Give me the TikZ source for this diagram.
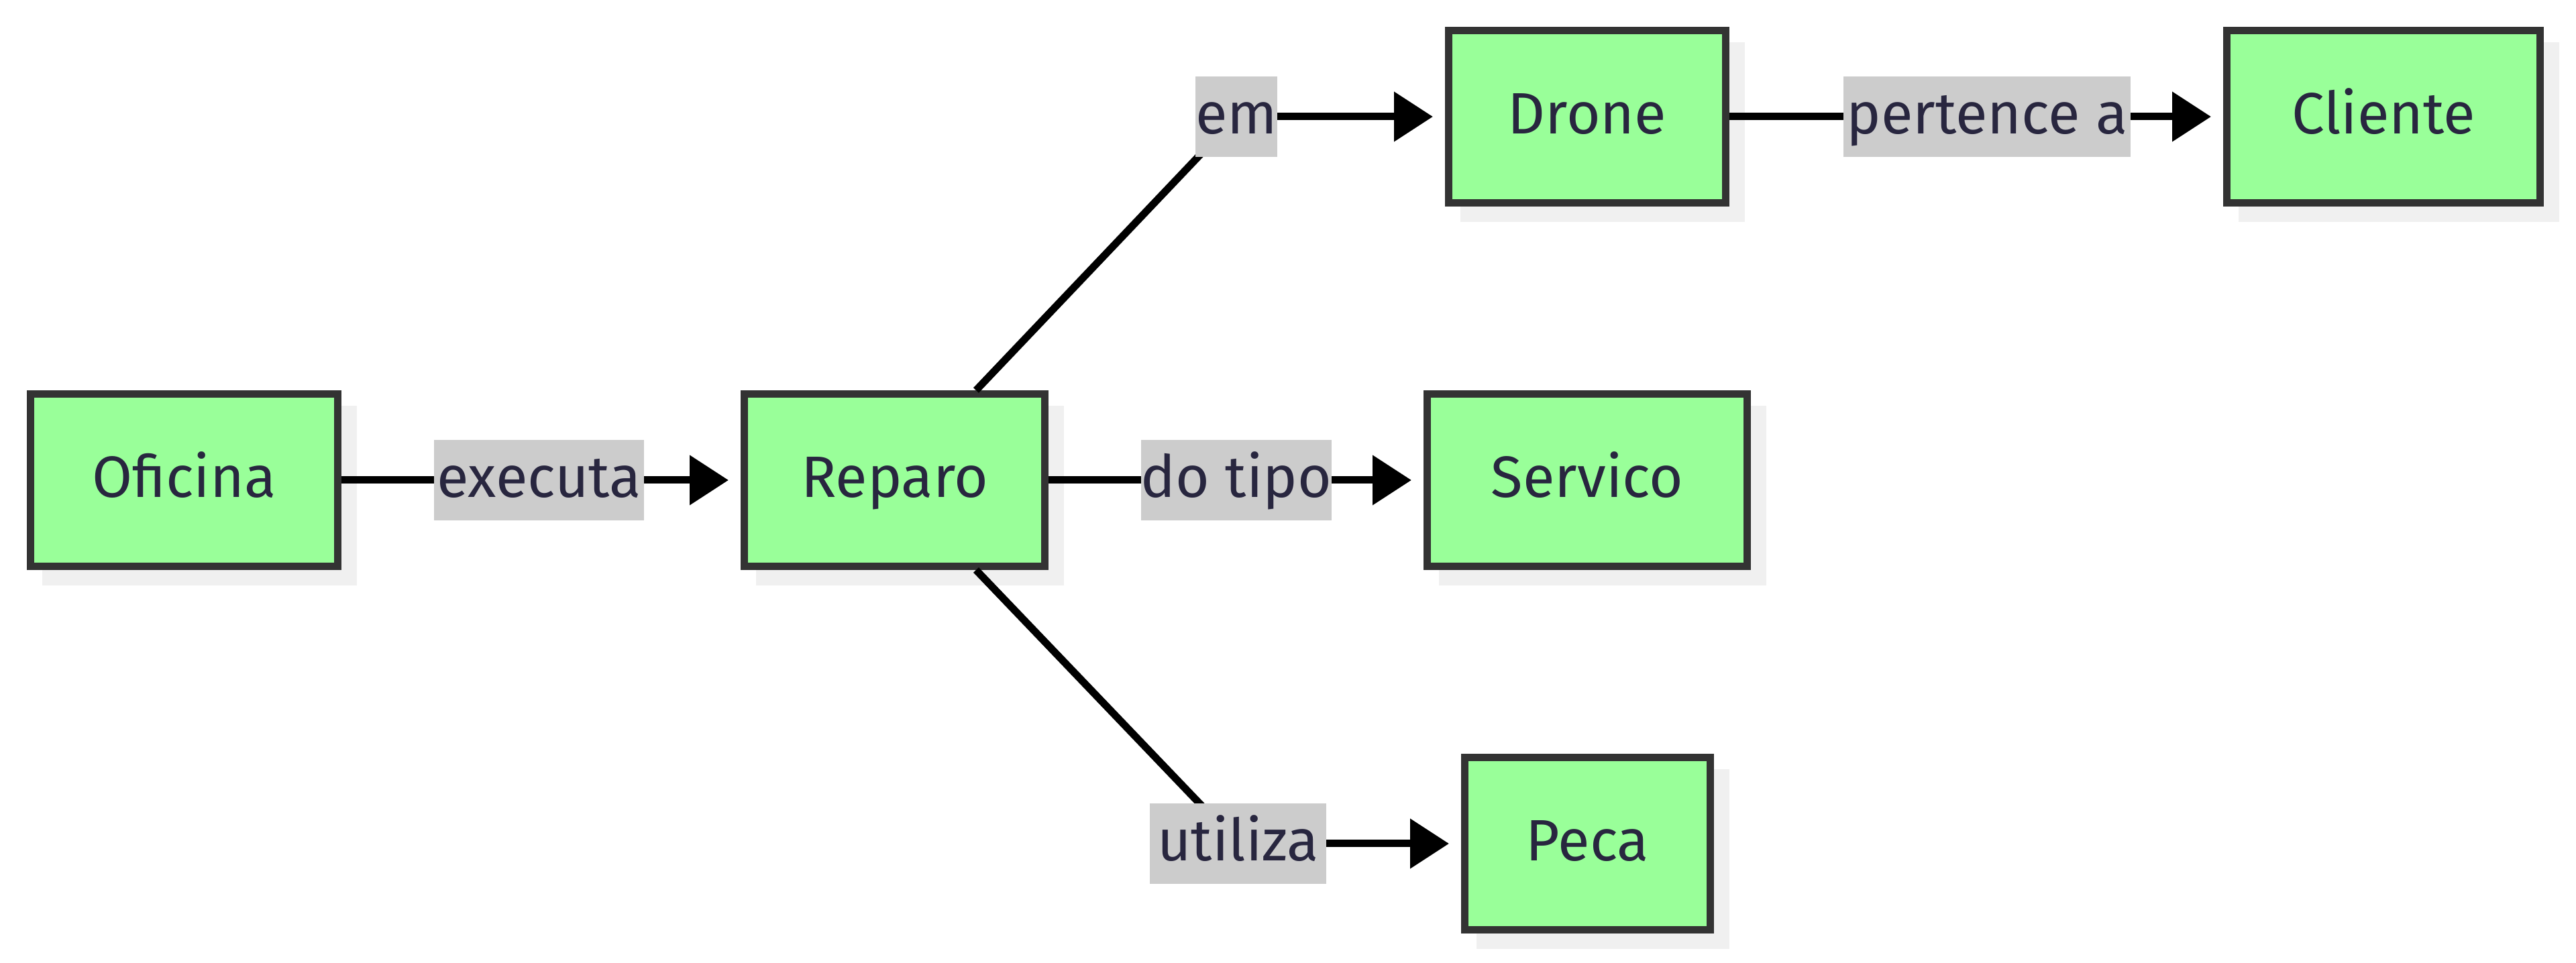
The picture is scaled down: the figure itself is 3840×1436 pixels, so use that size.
\documentclass[tikz,border=0pt]{standalone}
\usepackage{fontspec}
\setmainfont{Fira Sans}
\usetikzlibrary{arrows.meta,calc,backgrounds}
\pgfdeclarelayer{fg}
\pgfsetlayers{background,main,fg}
\definecolor{boxfill}{HTML}{99FF99}
\definecolor{boxline}{HTML}{333333}
\definecolor{lblfill}{HTML}{CCCCCC}
\definecolor{shadowc}{HTML}{F0F0F0}
\definecolor{txt}{HTML}{28263F}
\begin{document}
\begin{tikzpicture}[x=0.1pt,y=-0.1pt,
  box/.style={rectangle, draw=boxline, fill=boxfill, line width=1.1pt,
    minimum height=25.7pt, inner sep=0pt, text=txt,
    text height=6.5pt, text depth=1.3pt,
    font=\fontsize{8.7}{10}\selectfont},
  lbl/.style={rectangle, fill=lblfill, inner sep=0pt, minimum height=12pt,
    text=txt, text height=6.5pt, text depth=1.3pt,
    font=\fontsize{8.7}{10}\selectfont},
  edge/.style={line width=1.1pt, black},
  arr/.style={edge, -{Triangle[length=5.8pt,width=7.2pt]}, shorten >=1.8pt}
]
\useasboundingbox (0,0) rectangle (3840,1436);

% boxes
\node[box, minimum width=45.8pt] (oficina) at (274.5,716) {Oficina};
\node[box, minimum width=44.8pt] (reparo) at (1333.5,716) {Reparo};
\node[box, minimum width=41.3pt] (drone) at (2366,174) {Drone};
\node[box, minimum width=47.7pt] (servico) at (2366,716) {Servico};
\node[box, minimum width=36.6pt] (peca) at (2366.5,1258) {Peca};
\node[box, minimum width=46.7pt] (cliente) at (3553,174) {Cliente};

% edge labels
\begin{pgfonlayer}{fg}
\node[lbl, minimum width=31.3pt] (lexec) at (803.5,716) {executa};
\node[lbl, minimum width=11.4pt] (lem) at (1843,174) {em};
\node[lbl, minimum width=28pt] (ltipo) at (1843,716) {do tipo};
\node[lbl, minimum width=26.3pt] (lutil) at (1845.5,1258) {utiliza};
\node[lbl, minimum width=42.8pt] (lpert) at (2962,174) {pertence a};
\end{pgfonlayer}

\coordinate (rtop) at ($(reparo.north)+(121.5,0)$);
\coordinate (rbot) at ($(reparo.south)+(121.5,0)$);

% connectors
\draw[edge] (oficina) -- (lexec.center);
\draw[arr] (lexec.center) -- (reparo);
\draw[edge] (rtop) -- (lem.center);
\draw[arr] (lem.center) -- (drone);
\draw[edge] (reparo) -- (ltipo.center);
\draw[arr] (ltipo.center) -- (servico);
\draw[edge] (rbot) -- (lutil.center);
\draw[arr] (lutil.center) -- (peca);
\draw[edge] (drone) -- (lpert.center);
\draw[arr] (lpert.center) -- (cliente);

% shadows and background
\begin{pgfonlayer}{background}
\fill[white] (0,0) rectangle (3840,1436);
\foreach \n in {oficina,reparo,drone,servico,peca,cliente}
  \fill[shadowc] ($(\n.north west)+(23,23)$) rectangle ($(\n.south east)+(23,23)$);
\end{pgfonlayer}
\end{tikzpicture}
\end{document}
